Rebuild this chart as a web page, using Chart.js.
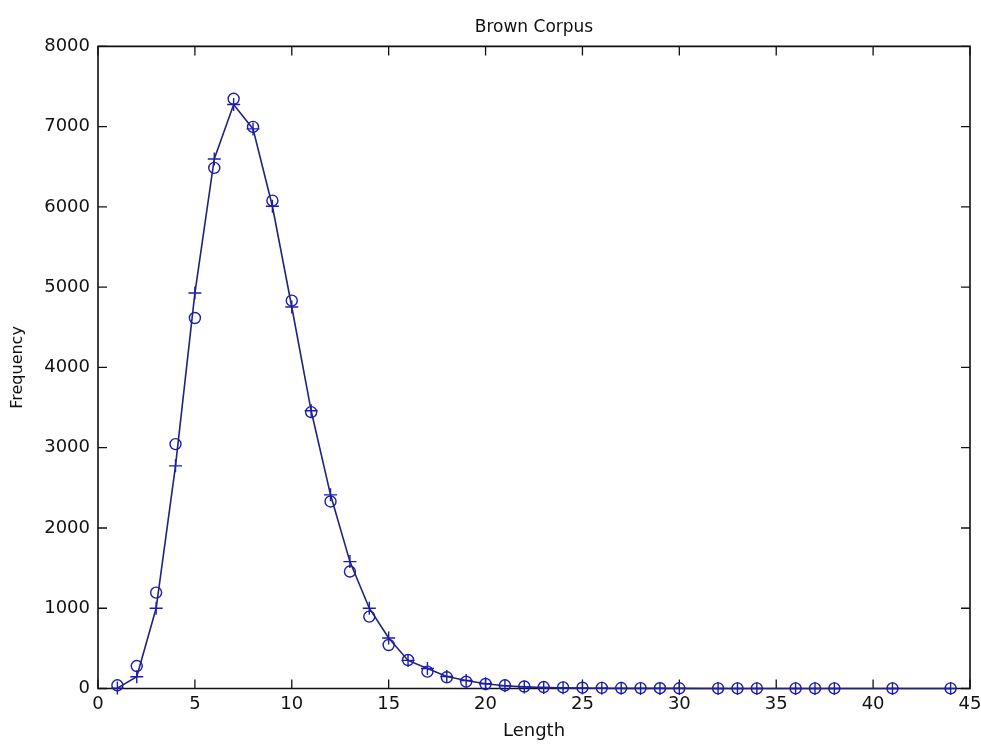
<!DOCTYPE html>
<html><head><meta charset="utf-8">
<script src="https://cdn.jsdelivr.net/npm/chart.js@4.4.0/dist/chart.umd.min.js"></script>
<style>html,body{margin:0;padding:0;background:#fff;} canvas{display:block;}</style>
</head><body>
<canvas id="c" width="981" height="745"></canvas>
<script>
const lengths  = [1,2,3,4,5,6,7,8,9,10,11,12,13,14,15,16,17,18,19,20,21,22,23,24,25,26,27,28,29,30,32,33,34,36,37,38,41,44];
const observed = [40,280,1195,3045,4616,6486,7347,6997,6078,4832,3443,2330,1457,896,542,355,210,140,85,56,40,25,18,14,10,8,6,5,4,3,2,2,1,1,1,1,1,1];
const fitted   = [5,147,1000,2774,4927,6598,7276,6972,6008,4753,3460,2413,1581,1000,630,350,250,150,100,60,35,20,12,8,5,3,2,1,1,1,0,0,0,0,0,0,0,0];
const xTicks = [0,5,10,15,20,25,30,35,40,45];
const yTicks = [0,1000,2000,3000,4000,5000,6000,7000,8000];

const LINE_BLUE = '#22227e';
const MARK_BLUE = '#1c1cb0';
const FONT = 'DejaVu Sans, sans-serif';

const framePlugin = {
  id: 'matlabFrame',
  beforeDatasetsDraw(chart) {
    const {ctx, chartArea: a, scales: {x, y}} = chart;
    ctx.save();
    ctx.strokeStyle = '#111';
    ctx.lineWidth = 1.6;
    ctx.beginPath();
    ctx.rect(a.left, a.top, a.right - a.left, a.bottom - a.top);
    ctx.stroke();
    const L = 9;
    ctx.lineWidth = 1.3;
    ctx.beginPath();
    x.ticks.forEach(t => {
      const px = x.getPixelForValue(t.value);
      ctx.moveTo(px, a.bottom); ctx.lineTo(px, a.bottom - L);
      ctx.moveTo(px, a.top); ctx.lineTo(px, a.top + L);
    });
    y.ticks.forEach(t => {
      const py = y.getPixelForValue(t.value);
      ctx.moveTo(a.left, py); ctx.lineTo(a.left + L, py);
      ctx.moveTo(a.right, py); ctx.lineTo(a.right - L, py);
    });
    ctx.stroke();
    ctx.restore();
  }
};

new Chart(document.getElementById('c'), {
  type: 'scatter',
  data: {
    datasets: [
      {
        label: 'Fitted',
        data: lengths.map((v, i) => ({x: v, y: fitted[i]})),
        showLine: true,
        borderColor: LINE_BLUE,
        backgroundColor: MARK_BLUE,
        borderWidth: 1.6,
        pointStyle: 'cross',
        pointRadius: 6.5,
        pointBorderWidth: 1.4,
        pointBorderColor: MARK_BLUE,
        tension: 0,
        clip: false
      },
      {
        label: 'Observed',
        data: lengths.map((v, i) => ({x: v, y: observed[i]})),
        showLine: false,
        pointStyle: 'circle',
        pointRadius: 5.5,
        pointBorderWidth: 1.4,
        pointBorderColor: MARK_BLUE,
        pointBackgroundColor: 'rgba(0,0,0,0)',
        clip: false
      }
    ]
  },
  options: {
    responsive: false,
    animation: false,
    devicePixelRatio: 1,
    layout: {padding: {left: 0, right: 11, top: 0, bottom: 0}},
    plugins: {
      legend: {display: false},
      tooltip: {enabled: false},
      title: {
        display: true,
        text: 'Brown Corpus',
        fullSize: false,
        color: '#111',
        font: {family: FONT, size: 17, weight: 'normal', lineHeight: 1.2},
        padding: {top: 17, bottom: 9}
      }
    },
    scales: {
      x: {
        type: 'linear',
        min: 0, max: 45,
        afterBuildTicks: s => { s.ticks = xTicks.map(v => ({value: v})); },
        afterFit: s => { s.height = 56.5; s.paddingLeft = 0; s.paddingRight = 0; },
        grid: {display: false, drawTicks: false},
        border: {display: false},
        ticks: {color: '#111', padding: 5, font: {family: FONT, size: 18}, maxRotation: 0, autoSkip: false,
                callback: v => String(v)},
        title: {display: true, text: 'Length', color: '#111', font: {family: FONT, size: 18}, padding: {top: 0, bottom: 3}}
      },
      y: {
        type: 'linear',
        min: 0, max: 8000,
        afterBuildTicks: s => { s.ticks = yTicks.map(v => ({value: v})); },
        afterFit: s => { s.width = 98; s.paddingTop = 0; s.paddingBottom = 0; },
        grid: {display: false, drawTicks: false},
        border: {display: false},
        ticks: {color: '#111', padding: 8, font: {family: FONT, size: 18}, autoSkip: false,
                callback: v => String(v)},
        title: {display: true, text: 'Frequency', color: '#111', font: {family: FONT, size: 16}, padding: {top: 8, bottom: 0}}
      }
    }
  },
  plugins: [framePlugin]
});
</script>
</body></html>
